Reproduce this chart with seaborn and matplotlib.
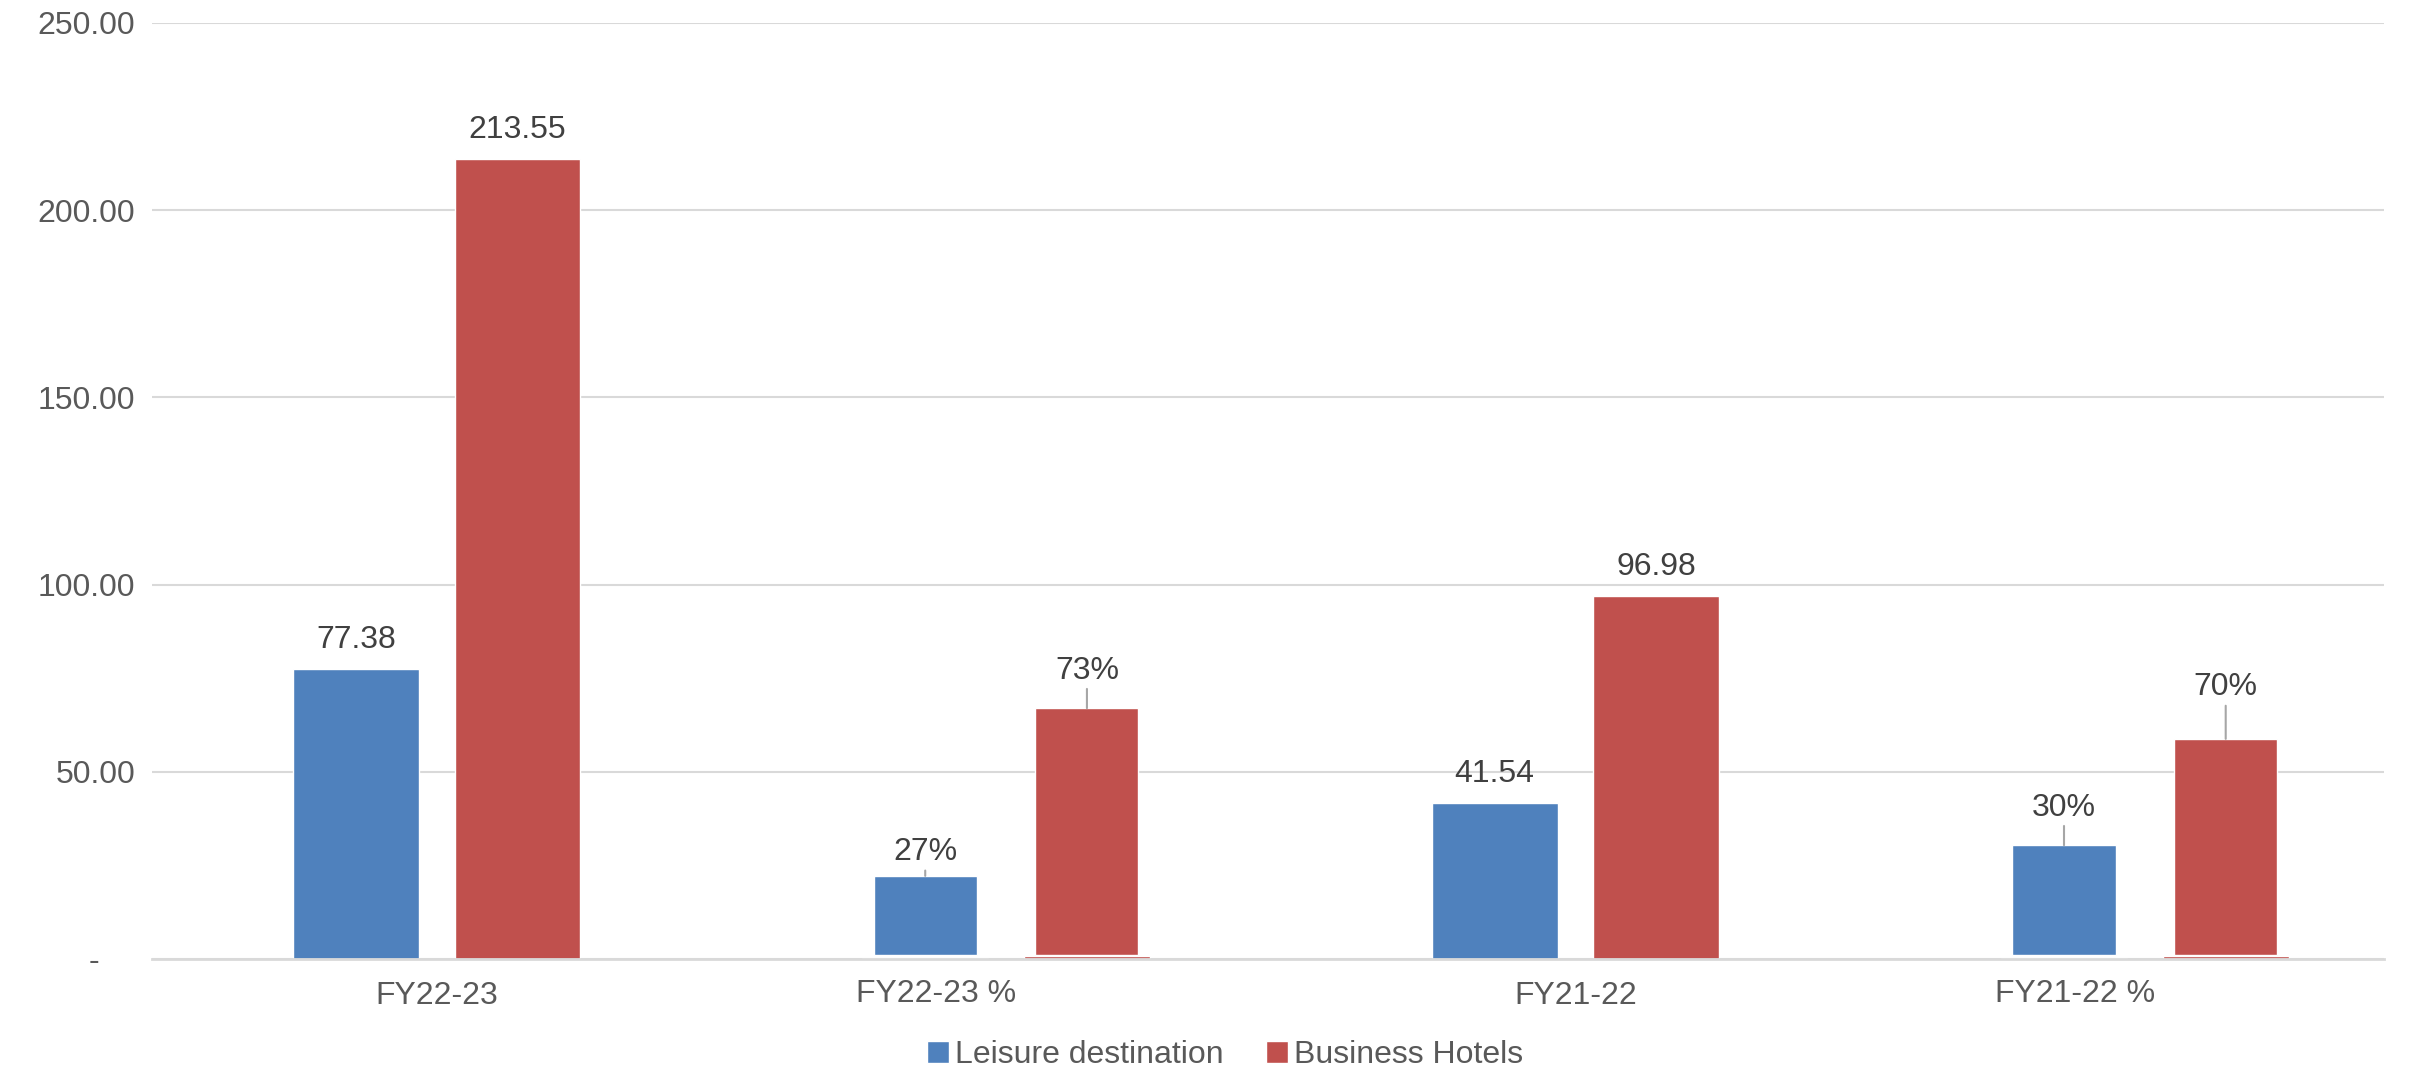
"""Leisure vs business hotels, grouped bars with percentage share."""

import matplotlib
matplotlib.use("Agg")  # headless rendering
import matplotlib.pyplot as plt
import matplotlib.transforms as mtransforms
from matplotlib.ticker import FuncFormatter, MultipleLocator
import pandas as pd
import seaborn as sns

CATEGORIES = ["FY22-23", "FY22-23 %", "FY21-22", "FY21-22 %"]
SERIES = ["Leisure destination", "Business Hotels"]
LEISURE = [77.38, 0.27, 41.54, 0.30]
BUSINESS = [213.55, 0.73, 96.98, 0.70]

# share bars of the "%" categories, as drawn on the value axis
PCT_CATEGORIES = ["FY22-23 %", "FY21-22 %"]
PCT_BASE = 1.1
PCT_LEISURE = [22.2, 30.4]
PCT_BUSINESS = [67.0, 58.8]
PCT_LEISURE_LABELS = ["27%", "30%"]
PCT_BUSINESS_LABELS = ["73%", "70%"]

COLORS = ["#4F81BD", "#C0504D"]
TEXT = "#404040"
TICK = "#595959"
GRID = "#D9D9D9"
FS = 23

df = pd.DataFrame({
    "category": CATEGORIES * 2,
    "series": [SERIES[0]] * len(CATEGORIES) + [SERIES[1]] * len(CATEGORIES),
    "value": LEISURE + BUSINESS,
})

sns.set_theme(style="white")
plt.rcParams["font.family"] = ["Liberation Sans", "DejaVu Sans"]

W, H = 2432, 1074
fig = plt.figure(figsize=(W / 100, H / 100), dpi=100)
ax = fig.add_axes([152 / W, 1 - 959 / H, (2384 - 152) / W, (959 - 23) / H])

sns.barplot(
    data=df, x="category", y="value", hue="series", order=CATEGORIES,
    hue_order=SERIES, palette=COLORS, saturation=1, width=0.568, gap=0.222,
    errorbar=None, ax=ax,
)

# bar centres per series, straight from the patches seaborn drew
centers = [[p.get_x() + p.get_width() / 2 for p in c] for c in ax.containers[:2]]

# value labels on the plain categories
for s, vals in enumerate([LEISURE, BUSINESS]):
    for i, cat in enumerate(CATEGORIES):
        if cat in PCT_CATEGORIES:
            continue
        ax.annotate(f"{vals[i]:.2f}", (centers[s][i], vals[i]), xytext=(0, 21),
                    textcoords="offset points", ha="center", va="center",
                    fontsize=FS, color=TEXT)

# floating share bars with leader-lined labels
offsets = {0: [17, 27], 1: [27, 37]}
for s, (heights, labels) in enumerate([(PCT_LEISURE, PCT_LEISURE_LABELS),
                                       (PCT_BUSINESS, PCT_BUSINESS_LABELS)]):
    for k, cat in enumerate(PCT_CATEGORIES):
        i = CATEGORIES.index(cat)
        x = centers[s][i]
        ax.bar(x, heights[k] - PCT_BASE, bottom=PCT_BASE, width=0.181,
               color=COLORS[s], zorder=3)
        ax.annotate(labels[k], (x, heights[k]), xytext=(0, offsets[s][k]),
                    textcoords="offset points", ha="center", va="center",
                    fontsize=FS, color=TEXT,
                    arrowprops=dict(arrowstyle="-", color="#A6A6A6", lw=1.5,
                                    shrinkA=0, shrinkB=0))

ax.set_ylim(0, 250)
ax.set_xlim(-0.5, 3.42)
ax.yaxis.set_major_locator(MultipleLocator(50))
ax.yaxis.set_major_formatter(
    FuncFormatter(lambda v, _: "-    " if v == 0 else f"{v:.2f}"))
ax.yaxis.grid(True, color=GRID, lw=1.5)
ax.set_axisbelow(True)
ax.set_xlabel("")
ax.set_ylabel("")
for side in ["left", "top", "right"]:
    ax.spines[side].set_visible(False)
ax.spines["bottom"].set_color(GRID)
ax.spines["bottom"].set_linewidth(2)
ax.tick_params(axis="both", length=0, labelsize=FS, labelcolor=TICK)
ax.tick_params(axis="y", pad=12)
ax.tick_params(axis="x", pad=16)

# the "%" category labels sit left of their bars in the original
shift = mtransforms.ScaledTranslation(-0.70, 0.02, fig.dpi_scale_trans)
for lbl in ax.get_xticklabels():
    if lbl.get_text() in PCT_CATEGORIES:
        lbl.set_transform(lbl.get_transform() + shift)

handles, labels = ax.get_legend_handles_labels()
ax.legend_.remove()
fig.legend(handles[:2], labels[:2], loc="center",
           bbox_to_anchor=(1225 / W, 1 - 1055 / H), ncol=2, frameon=False,
           fontsize=FS, labelcolor=TICK, handlelength=0.7, handleheight=0.7,
           handletextpad=0.2, columnspacing=1.3)

fig.savefig("out.png", dpi=100)
plt.close(fig)
